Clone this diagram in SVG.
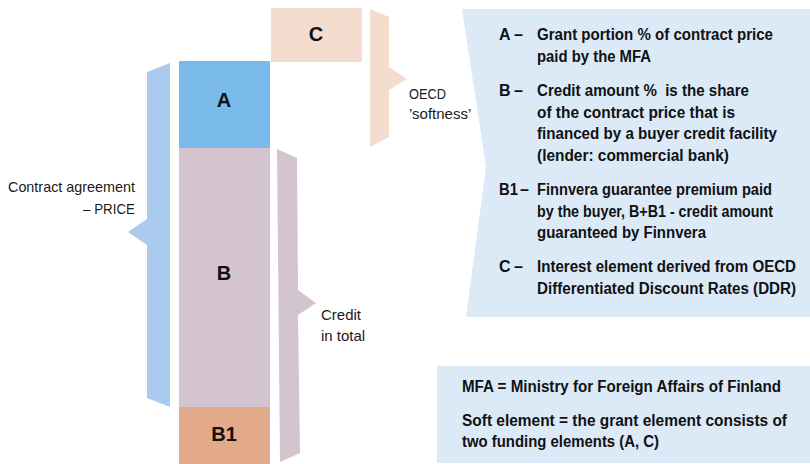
<svg xmlns="http://www.w3.org/2000/svg" width="810" height="464" viewBox="0 0 810 464">
  <style>
    .lbl { font-family: "Liberation Sans", Arial, sans-serif; font-size: 15px; fill: #1a1a1a; }
    .big { font-family: "Liberation Sans", Arial, sans-serif; font-size: 20px; font-weight: bold; fill: #111; text-anchor: middle; }
    .key { font-family: "Liberation Sans", Arial, sans-serif; font-size: 16px; font-weight: bold; fill: #111; }
  </style>
  <rect width="810" height="464" fill="#ffffff"/>

  <!-- brackets -->
  <g id="connectors">
    <polygon id="brace-price" fill="#AACBEE" points="147,72 170,63 170,407 147,398 147,245 128,232 147,219"/>
    <polygon id="brace-credit" fill="#D3C4CF" points="277,149 297,158 298,290 316,303 298,315 300,453 280,462"/>
    <polygon id="brace-oecd" fill="#F4DCCE" points="370,9 389,17 389,67 407,79 389,90 389,137 370,147"/>
  </g>

  <!-- price stack -->
  <g id="node-a">
    <rect x="179" y="61" width="91" height="87" fill="#79BAEB"/>
    <text class="big" x="224" y="107">A</text>
  </g>
  <g id="node-b">
    <rect x="179" y="148" width="91" height="259" fill="#D3C4CF"/>
    <text class="big" x="224" y="280">B</text>
  </g>
  <g id="node-b1">
    <rect x="179" y="407" width="91" height="57" fill="#E3A98B"/>
    <text class="big" x="224" y="441">B1</text>
  </g>
  <g id="node-c">
    <rect x="271" y="8" width="91" height="54" fill="#F4DCCE"/>
    <text class="big" x="316" y="41">C</text>
  </g>

  <!-- bracket captions -->
  <g id="label-price">
    <text class="lbl" x="135" y="192" text-anchor="end" textLength="127" lengthAdjust="spacingAndGlyphs">Contract agreement</text>
    <text class="lbl" x="135" y="214" text-anchor="end" textLength="52" lengthAdjust="spacingAndGlyphs">– PRICE</text>
  </g>
  <g id="label-credit">
    <text class="lbl" x="321" y="320">Credit</text>
    <text class="lbl" x="321" y="341">in total</text>
  </g>
  <g id="label-oecd">
    <text class="lbl" x="409" y="99" textLength="37" lengthAdjust="spacingAndGlyphs">OECD</text>
    <text class="lbl" x="409" y="119">’softness’</text>
  </g>

  <!-- legend panel -->
  <g id="legend">
    <polygon fill="#DCEAF8" points="462,9 810,9 810,317 466,317 486,167"/>
    <text class="key" x="499" y="40">A</text><text class="key" x="514" y="40">–</text>
    <text class="key" x="537" y="40" textLength="236" lengthAdjust="spacingAndGlyphs">Grant portion % of contract price</text>
    <text class="key" x="537" y="61.5" textLength="114" lengthAdjust="spacingAndGlyphs">paid by the MFA</text>

    <text class="key" x="499" y="96">B</text><text class="key" x="514" y="96">–</text>
    <text class="key" x="537" y="96" textLength="212" lengthAdjust="spacingAndGlyphs" xml:space="preserve">Credit amount %  is the share</text>
    <text class="key" x="537" y="117.5" textLength="198" lengthAdjust="spacingAndGlyphs">of the contract price that is</text>
    <text class="key" x="537" y="139" textLength="240" lengthAdjust="spacingAndGlyphs">financed by a buyer credit facility</text>
    <text class="key" x="537" y="160.5" textLength="192" lengthAdjust="spacingAndGlyphs">(lender: commercial bank)</text>

    <text class="key" x="499" y="195" textLength="19" lengthAdjust="spacingAndGlyphs">B1</text><text class="key" x="520" y="195">–</text>
    <text class="key" x="537" y="195" textLength="235" lengthAdjust="spacingAndGlyphs">Finnvera guarantee premium paid</text>
    <text class="key" x="537" y="216.5" textLength="236" lengthAdjust="spacingAndGlyphs">by the buyer, B+B1 - credit amount</text>
    <text class="key" x="537" y="238" textLength="169" lengthAdjust="spacingAndGlyphs">guaranteed by Finnvera</text>

    <text class="key" x="499" y="272">C</text><text class="key" x="514" y="272">–</text>
    <text class="key" x="537" y="272" textLength="259" lengthAdjust="spacingAndGlyphs">Interest element derived from OECD</text>
    <text class="key" x="537" y="293.5" textLength="259" lengthAdjust="spacingAndGlyphs">Differentiated Discount Rates (DDR)</text>
  </g>

  <!-- abbreviations note -->
  <g id="note">
    <rect x="437" y="366" width="373" height="97" fill="#DCEAF8"/>
    <text class="key" x="462" y="392" textLength="319" lengthAdjust="spacingAndGlyphs">MFA = Ministry for Foreign Affairs of Finland</text>
    <text class="key" x="462" y="426" textLength="325" lengthAdjust="spacingAndGlyphs">Soft element = the grant element consists of</text>
    <text class="key" x="462" y="447" textLength="197" lengthAdjust="spacingAndGlyphs">two funding elements (A, C)</text>
  </g>
</svg>
